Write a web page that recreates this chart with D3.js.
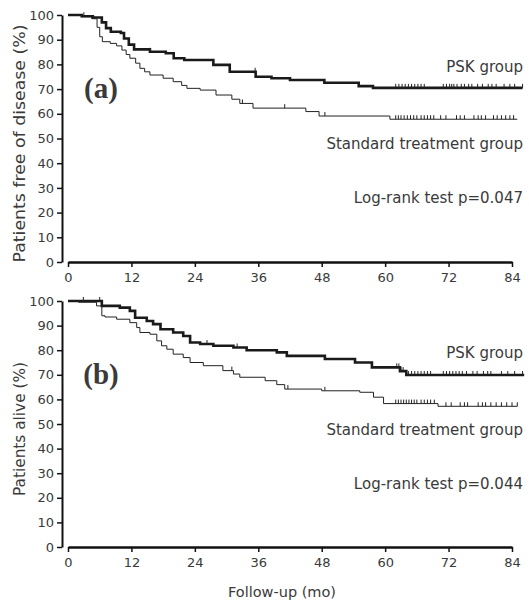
<!DOCTYPE html>
<html>
<head>
<meta charset="utf-8">
<script src="https://cdn.jsdelivr.net/npm/d3@7"></script>
<style>
  body { margin: 0; background: #fff; }
  text { font-family: "DejaVu Sans", Verdana, sans-serif; fill: #3a3a3a; }
</style>
</head>
<body>
<div id="chart"></div>
<script>
// Kaplan-Meier steps: [month, percent]
const pskA = [[0,100],[2.6,99.5],[4.7,99],[6.4,97],[7.2,94.7],[8.1,93.2],[10,92.7],[10.6,90.5],[11.5,88],[12.5,86.1],[15.5,85.1],[18.5,84.5],[20,82.5],[22,81.8],[27.5,79.8],[30.6,77],[35.5,75],[38.5,74.4],[42,73.7],[48.5,72.6],[55,71.2],[57.7,70.5],[86,70.5]];
const stdA = [[0,100],[2.6,99.3],[4.5,98.5],[5.5,95],[6,91.2],[6.5,89.2],[8,88.5],[9.2,87.5],[10.2,85.8],[11,84],[11.7,82.5],[12.8,80.5],[13.6,78.4],[14.5,77],[15.5,75.7],[18,74.4],[19.9,73],[21.5,71.5],[22.5,70.3],[25,69.6],[28,67.6],[31,65.9],[32.5,64.2],[35,62.3],[45,60.9],[47.5,59.1],[60.9,57.8],[85,57.8]];
const pskB = [[0,100],[6.4,98],[9.8,97.3],[11.7,96],[12.7,93.2],[14.9,91.9],[16.1,90.6],[17.5,88.5],[19.9,87.2],[21.8,85.8],[23.1,83.1],[25,82.5],[27.5,81.8],[31.3,81.1],[33.8,80],[39.5,79.1],[41.4,77.7],[48.6,76.4],[54.3,75],[57.5,73],[62.8,71.5],[64,69.9],[86.3,69.9]];
const stdB = [[0,100],[2,99.5],[5.4,98],[6.4,94],[7,93.5],[9.2,92.6],[11.7,91.2],[13,89.2],[13.6,87.2],[15.5,86.5],[16.8,83.8],[17.7,81.8],[18.7,80.4],[19.9,78.4],[21.8,77],[23.1,75],[25.6,73.7],[29.3,71.7],[31.3,70.3],[32.5,69],[37.3,67.6],[39.5,66],[41,64.2],[48,63.5],[55.2,62.9],[57.8,60.9],[59.7,58.3],[70,57.2],[85,57.2]];

// censored observations (months)
const pskACens = [3,15.5,35.4,62,62.6,63.2,63.8,64.4,65,65.6,66.2,66.8,67.4,71,71.6,72.2,72.6,73,73.6,74.4,75,75.8,76.4,77.5,78.4,79.5,80.2,81,82.5,83.6,84.5,86];
const stdACens = [33,41,48.6,62,62.5,63,63.6,64.2,64.8,65.4,66,66.8,67.4,68,68.6,69.2,70.5,71.5,73.5,74.2,75,76.8,77.6,78.2,79,80.5,81.2,82,82.8,83.6,84.3];
const pskBCens = [2.9,6,26.3,32,48.6,62.2,62.6,63,63.4,64.4,65,65.6,66.2,66.8,67.4,68,68.6,71,71.6,72.2,72.8,73.4,74,74.6,75.4,76.6,77.4,78.6,79.4,80,82,83.2,84.5,86];
const stdBCens = [31,41.6,48.6,62,62.5,63,63.5,64,64.5,65,65.5,66,66.8,67.4,68,68.6,69.3,71.5,72.5,74.2,75,75.6,77.6,78.4,79,80,81,82,83,84,85];

const xTicks = [0,12,24,36,48,60,72,84];
const yTicks = [0,10,20,30,40,50,60,70,80,90,100];
const panelLabels = ["(a)", "(b)"];
const yTitles = ["Patients free of disease (%)", "Patients alive (%)"];
const pValues = ["Log-rank test p=0.047", "Log-rank test p=0.044"];

function init() {
  const width = 529, height = 605;
  const svg = d3.select("#chart").append("svg")
    .attr("width", width)
    .attr("height", height);

  const x = d3.scaleLinear().domain([0, 84]).range([68, 512]);

  const panels = [
    { top: 15, bottom: 262, psk: pskA, std: stdA, pskC: pskACens, stdC: stdACens },
    { top: 301, bottom: 547, psk: pskB, std: stdB, pskC: pskBCens, stdC: stdBCens }
  ];

  panels.forEach((p, i) => {
    const y = d3.scaleLinear().domain([0, 100]).range([p.bottom, p.top]);
    const off = p.top - 15;

    // y axis
    const yAxis = svg.append("g")
      .attr("transform", "translate(62,0)")
      .call(d3.axisLeft(y).tickValues(yTicks).tickSize(5).tickSizeOuter(0).tickPadding(3));
    yAxis.select(".domain").attr("stroke", "#111").attr("stroke-width", 2);
    yAxis.selectAll(".tick line").attr("stroke", "#111").attr("stroke-width", 1.5);
    yAxis.selectAll(".tick text").attr("font-size", 13).attr("fill", "#3a3a3a")
      .style("font-family", "DejaVu Sans, sans-serif");

    // x axis
    const xAxis = svg.append("g")
      .attr("transform", "translate(0," + p.bottom + ")")
      .call(d3.axisBottom(x).tickValues(xTicks).tickSize(5).tickSizeOuter(0).tickPadding(6));
    xAxis.select(".domain").attr("stroke", "#111").attr("stroke-width", 2.5);
    xAxis.selectAll(".tick line").attr("stroke", "#111").attr("stroke-width", 1.5);
    xAxis.selectAll(".tick text").attr("font-size", 13).attr("fill", "#3a3a3a")
      .style("font-family", "DejaVu Sans, sans-serif");

    const line = d3.line()
      .x(d => x(d[0]))
      .y(d => y(d[1]))
      .curve(d3.curveStepAfter);

    svg.append("path").datum(p.std)
      .attr("fill", "none").attr("stroke", "#222").attr("stroke-width", 1)
      .attr("d", line);
    svg.append("path").datum(p.psk)
      .attr("fill", "none").attr("stroke", "#1a1a1a").attr("stroke-width", 2.6)
      .attr("d", line);

    // censor ticks
    function survAt(curve, t) {
      let v = curve[0][1];
      curve.forEach(d => { if (d[0] <= t) v = d[1]; });
      return v;
    }
    [[p.std, p.stdC], [p.psk, p.pskC]].forEach(([curve, cens]) => {
      svg.append("g").selectAll("line")
        .data(cens)
        .enter().append("line")
        .attr("x1", t => x(t)).attr("x2", t => x(t))
        .attr("y1", t => y(survAt(curve, t)) - 4)
        .attr("y2", t => y(survAt(curve, t)))
        .attr("stroke", "#222").attr("stroke-width", 1);
    });

    // panel label
    svg.append("text")
      .attr("x", 101).attr("y", 98 + off)
      .attr("text-anchor", "middle")
      .style("font-family", "Liberation Serif, serif")
      .style("font-weight", "bold")
      .style("font-size", "29px")
      .attr("fill", "#3a3a3a")
      .text(panelLabels[i]);

    // y title
    svg.append("text")
      .attr("transform", "translate(25," + ((p.top + p.bottom) / 2 + 5) + ") rotate(-90)")
      .attr("text-anchor", "middle")
      .style("font-size", "15px")
      .attr("textLength", i === 0 ? 238 : 134)
      .attr("lengthAdjust", "spacingAndGlyphs")
      .text(yTitles[i]);

    // annotations
    svg.append("text").attr("x", 523).attr("y", 72 + off)
      .attr("text-anchor", "end").style("font-size", "15px").text("PSK group");
    svg.append("text").attr("x", 523).attr("y", 149 + off)
      .attr("text-anchor", "end").style("font-size", "15px").text("Standard treatment group");
    svg.append("text").attr("x", 523).attr("y", 203 + off)
      .attr("text-anchor", "end").style("font-size", "15px").text(pValues[i]);
  });

  svg.append("text")
    .attr("x", 282).attr("y", 597)
    .attr("text-anchor", "middle")
    .style("font-size", "14.5px")
    .text("Follow-up (mo)");
}

window.onload = init;
</script>
</body>
</html>
